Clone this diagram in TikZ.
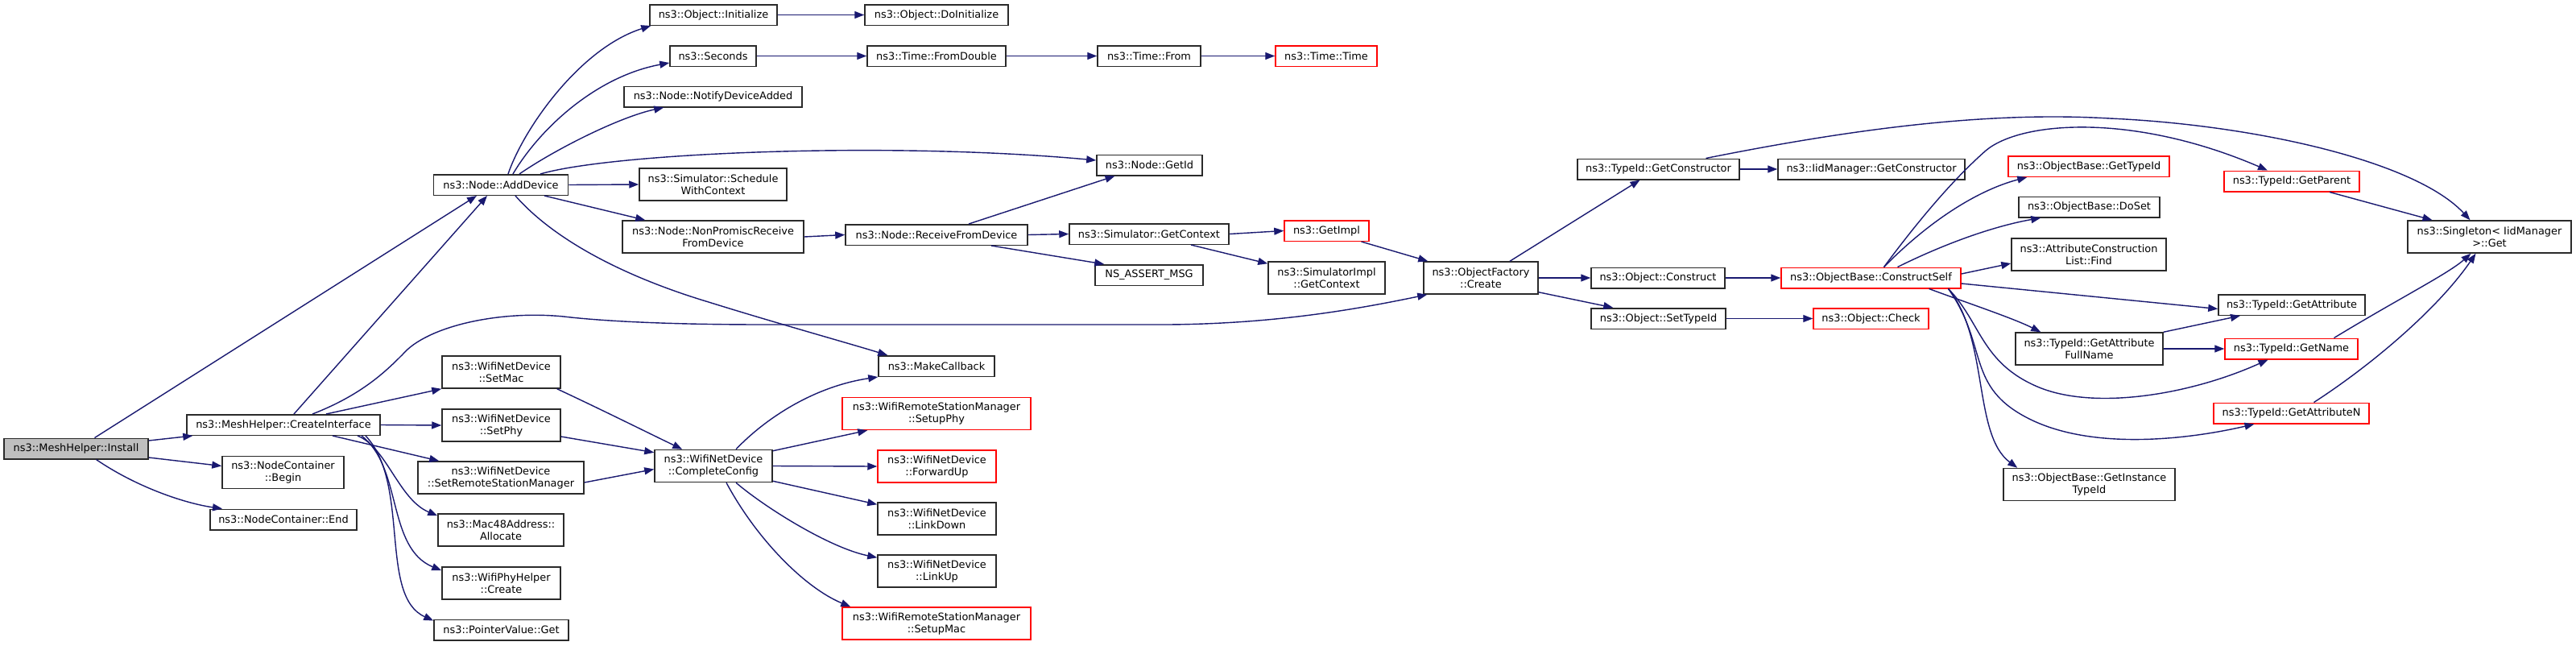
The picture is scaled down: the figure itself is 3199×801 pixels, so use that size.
\documentclass[tikz,border=0pt]{standalone}
\usepackage{fontspec}
\setmainfont{DejaVu Sans}
\usetikzlibrary{arrows.meta}
\definecolor{edgec}{HTML}{191970}
\definecolor{nodeb}{HTML}{2A2A2A}
\begin{document}
\begin{tikzpicture}[x=1pt,y=-1pt,
 box/.style={draw=nodeb, line width=1.5pt, fill=white, inner xsep=3pt, inner ysep=0pt, minimum height=25.5pt, align=center, font=\fontsize{12.9}{15}\selectfont},
 two/.style={minimum height=40pt},
 hot/.style={draw=red},
 cur/.style={fill=black!25},
 e/.style={draw=edgec, line width=1.4pt, -{Triangle[length=12pt,width=9pt]}}]
\useasboundingbox[fill=white] (0,0) rectangle (3199,801);
% nodes
\node[box,cur,minimum width=179pt] (install) at (94.5,557) {ns3::MeshHelper::Install};
\node[box,minimum width=240pt] (ci) at (352,527.5) {ns3::MeshHelper::CreateInterface};
\node[box,two,minimum width=151pt] (ncb) at (351.5,586.5) {ns3::NodeContainer\\::Begin};
\node[box,minimum width=182pt] (nce) at (352,645) {ns3::NodeContainer::End};
\node[box,minimum width=167pt] (ad) at (622,229.5) {ns3::Node::AddDevice};
\node[box,two,minimum width=147pt] (setmac) at (622.5,462) {ns3::WifiNetDevice\\::SetMac};
\node[box,two,minimum width=147pt] (setphy) at (622.5,528) {ns3::WifiNetDevice\\::SetPhy};
\node[box,two,minimum width=206pt] (srsm) at (622,593) {ns3::WifiNetDevice\\::SetRemoteStationManager};
\node[box,two,minimum width=156pt] (mac48) at (622,658) {ns3::Mac48Address::\\Allocate};
\node[box,two,minimum width=147pt] (wph) at (622.5,724) {ns3::WifiPhyHelper\\::Create};
\node[box,minimum width=167pt] (pvg) at (622.5,782) {ns3::PointerValue::Get};
\node[box,minimum width=158pt] (oinit) at (886,18.5) {ns3::Object::Initialize};
\node[box,minimum width=178pt] (odoinit) at (1163,18.5) {ns3::Object::DoInitialize};
\node[box,minimum width=107pt] (sec) at (885.5,69.5) {ns3::Seconds};
\node[box,minimum width=172pt] (fromd) at (1163,69.5) {ns3::Time::FromDouble};
\node[box,minimum width=128pt] (tfrom) at (1427,69.5) {ns3::Time::From};
\node[box,hot,minimum width=126pt] (ttime) at (1647,69.5) {ns3::Time::Time};
\node[box,minimum width=221pt] (nda) at (885.5,120) {ns3::Node::NotifyDeviceAdded};
\node[box,minimum width=131pt] (getid) at (1427.5,205) {ns3::Node::GetId};
\node[box,two,minimum width=183pt] (swc) at (885.5,229) {ns3::Simulator::Schedule\\WithContext};
\node[box,two,minimum width=225pt] (nprfd) at (885.5,294) {ns3::Node::NonPromiscReceive\\FromDevice};
\node[box,minimum width=226pt] (rfd) at (1163,291.5) {ns3::Node::ReceiveFromDevice};
\node[box,minimum width=198pt] (sgc) at (1427,290.5) {ns3::Simulator::GetContext};
\node[box,minimum width=134pt] (nsa) at (1427,341.5) {NS\_ASSERT\_MSG};
\node[box,minimum width=144pt] (mcb) at (1163,454.5) {ns3::MakeCallback};
\node[box,two,hot,minimum width=234pt] (sphy) at (1163,513.5) {ns3::WifiRemoteStationManager\\::SetupPhy};
\node[box,two,minimum width=146pt] (cc) at (886,578.5) {ns3::WifiNetDevice\\::CompleteConfig};
\node[box,two,hot,minimum width=147pt] (fwd) at (1163.5,579) {ns3::WifiNetDevice\\::ForwardUp};
\node[box,two,minimum width=147pt] (ldown) at (1163.5,644) {ns3::WifiNetDevice\\::LinkDown};
\node[box,two,minimum width=147pt] (lup) at (1163.5,709) {ns3::WifiNetDevice\\::LinkUp};
\node[box,two,hot,minimum width=234pt] (smac) at (1163,774) {ns3::WifiRemoteStationManager\\::SetupMac};
\node[box,hot,minimum width=105pt] (gimpl) at (1647.5,286.5) {ns3::GetImpl};
\node[box,two,minimum width=145pt] (sigc) at (1647.5,345) {ns3::SimulatorImpl\\::GetContext};
\node[box,two,minimum width=142pt] (ofc) at (1839,345) {ns3::ObjectFactory\\::Create};
\node[box,minimum width=201pt] (tgc) at (2059.5,210) {ns3::TypeId::GetConstructor};
\node[box,minimum width=232pt] (igc) at (2324,210) {ns3::IidManager::GetConstructor};
\node[box,minimum width=166pt] (ocon) at (2059,345) {ns3::Object::Construct};
\node[box,minimum width=167pt] (ost) at (2059.5,395.5) {ns3::Object::SetTypeId};
\node[box,hot,minimum width=223pt] (ocs) at (2323.5,345) {ns3::ObjectBase::ConstructSelf};
\node[box,hot,minimum width=143pt] (ochk) at (2323.5,395.5) {ns3::Object::Check};
\node[box,hot,minimum width=200pt] (obgt) at (2594,206.5) {ns3::ObjectBase::GetTypeId};
\node[box,minimum width=175pt] (obds) at (2594.5,257) {ns3::ObjectBase::DoSet};
\node[box,two,minimum width=192pt] (acl) at (2594,316) {ns3::AttributeConstruction\\List::Find};
\node[box,hot,minimum width=168pt] (tgp) at (2846,225) {ns3::TypeId::GetParent};
\node[box,two,minimum width=203pt] (sing) at (3091.5,294) {ns3::Singleton< IidManager\\ >::Get};
\node[box,minimum width=182pt] (tga) at (2846,378.5) {ns3::TypeId::GetAttribute};
\node[box,two,minimum width=183pt] (tgafn) at (2594.5,433) {ns3::TypeId::GetAttribute\\FullName};
\node[box,hot,minimum width=165pt] (tgn) at (2845.5,433) {ns3::TypeId::GetName};
\node[box,hot,minimum width=193pt] (tgan) at (2845.5,513) {ns3::TypeId::GetAttributeN};
\node[box,two,minimum width=213pt] (obgit) at (2594.5,601.5) {ns3::ObjectBase::GetInstance\\TypeId};
% edges from Install
\draw[e] ([xshift=23pt]install.north) -- ([xshift=-30pt]ad.south);
\draw[e] ([yshift=10pt]install.east) -- ([xshift=8pt]ci.south west);
\draw[e] ([yshift=-11pt]install.east) -- ([yshift=8pt]ncb.west);
\draw[e] ([xshift=25pt]install.south) .. controls (170,605) and (230,625) .. ([xshift=-76pt]nce.north);
% edges from CreateInterface
\draw[e] ([xshift=13pt]ci.north) -- ([xshift=-17pt]ad.south);
\draw[e] ([xshift=36pt]ci.north) .. controls (450,490) and (480,460) .. (500,440) .. controls (530,405) and (620,385) .. (700,393) .. controls (760,400) and (850,403) .. (950,403) -- (1450,403) .. controls (1580,402) and (1680,385) .. ([xshift=5pt]ofc.south west);
\draw[e] ([xshift=53pt]ci.north) -- (setmac.south west);
\draw[e] (ci.east) -- (setphy.west);
\draw[e] ([xshift=61pt]ci.south) -- ([xshift=27pt]srsm.north west);
\draw[e] ([xshift=92pt]ci.south) .. controls (480,555) and (495,620) .. ([yshift=-3pt]mac48.north west);
\draw[e] ([xshift=97pt]ci.south) .. controls (500,580) and (480,680) .. ([yshift=-5pt]wph.north west);
\draw[e] ([xshift=102pt]ci.south) .. controls (510,600) and (470,740) .. ([yshift=-2pt]pvg.north west);
% edges from AddDevice
\draw[e] ([xshift=9pt]ad.north) .. controls (650,160) and (720,60) .. ([xshift=2pt]oinit.south west);
\draw[e] ([xshift=15pt]ad.north) .. controls (670,160) and (740,95) .. ([yshift=5pt]sec.south west);
\draw[e] ([xshift=23pt]ad.north) .. controls (690,185) and (770,145) .. ([xshift=50pt]nda.south west);
\draw[e] ([xshift=49pt]ad.north) .. controls (760,190) and (1100,175) .. ([yshift=6pt]getid.west);
\draw[e] (ad.east) -- (swc.west);
\draw[e] ([xshift=54pt]ad.south) -- ([xshift=29pt]nprfd.north west);
\draw[e] ([xshift=18pt]ad.south) .. controls (690,300) and (780,345) .. (880,375) .. controls (960,400) and (1050,425) .. ([xshift=12pt]mcb.north west);
% receive chain
\draw[e] (nprfd.east) -- (rfd.west);
\draw[e] ([xshift=40pt]rfd.north) -- ([xshift=-43pt]getid.south);
\draw[e] (rfd.east) -- (sgc.west);
\draw[e] ([xshift=68pt]rfd.south) -- ([xshift=12pt]nsa.north west);
\draw[e] (sgc.east) -- (gimpl.west);
\draw[e] ([xshift=52pt]sgc.south) -- ([yshift=-3pt]sigc.north west);
\draw[e] ([xshift=43pt]gimpl.south) -- ([xshift=6pt]ofc.north west);
% time chain
\draw[e] (oinit.east) -- (odoinit.west);
\draw[e] (sec.east) -- (fromd.west);
\draw[e] (fromd.east) -- (tfrom.west);
\draw[e] (tfrom.east) -- (ttime.west);
% wifi
\draw[e] ([xshift=-5pt]setmac.south east) .. controls (750,510) and (800,535) .. ([xshift=35pt]cc.north west);
\draw[e] ([yshift=-14pt]setphy.east) -- ([yshift=-4pt]cc.north west);
\draw[e] ([yshift=-6pt]srsm.east) -- ([yshift=-4pt]cc.west);
\draw[e] ([xshift=28pt]cc.north) .. controls (950,520) and (1010,480) .. (mcb.south west);
\draw[e] ([yshift=-2pt]cc.north east) -- ([xshift=32pt]sphy.south west);
\draw[e] (cc.east) -- (fwd.west);
\draw[e] ([yshift=2pt]cc.south east) -- ([yshift=-3pt]ldown.north west);
\draw[e] ([xshift=28pt]cc.south) .. controls (950,630) and (1030,680) .. ([yshift=-4pt]lup.north west);
\draw[e] ([xshift=16pt]cc.south) .. controls (940,670) and (1000,730) .. ([xshift=11pt]smac.north west);
% object factory
\draw[e] ([xshift=36pt]ofc.north) -- ([xshift=-23pt]tgc.south);
\draw[e] (ofc.east) -- (ocon.west);
\draw[e] ([yshift=3pt]ofc.south east) -- ([xshift=28pt]ost.north west);
\draw[e] (tgc.east) -- (igc.west);
\draw[e] ([xshift=59pt]tgc.north) .. controls (2350,150) and (2500,140) .. (2620,147) .. controls (2800,155) and (3000,200) .. ([xshift=-24pt]sing.north);
\draw[e] (ocon.east) -- (ocs.west);
\draw[e] (ost.east) -- (ochk.west);
% construct self
\draw[e] ([xshift=16pt]ocs.north) .. controls (2400,270) and (2460,235) .. ([xshift=24pt]obgt.south west);
\draw[e] ([xshift=16pt]ocs.north) .. controls (2400,250) and (2440,210) .. (2466,187) .. controls (2510,150) and (2650,140) .. ([xshift=-30pt]tgp.north);
\draw[e] ([xshift=33pt]ocs.north) .. controls (2420,300) and (2480,280) .. ([xshift=28pt]obds.south west);
\draw[e] ([yshift=5pt]ocs.east) -- ([yshift=-11pt]acl.west);
\draw[e] ([yshift=-7pt]ocs.east) -- ([yshift=-5pt]tga.west);
\draw[e] ([xshift=72pt]ocs.south) .. controls (2440,375) and (2500,395) .. ([xshift=32pt]tgafn.north west);
\draw[e] ([xshift=96pt]ocs.south) .. controls (2460,400) and (2460,450) .. (2530,480) .. controls (2600,510) and (2720,490) .. ([xshift=-29pt]tgn.south);
\draw[e] ([xshift=96pt]ocs.south) .. controls (2470,430) and (2440,480) .. (2520,520) .. controls (2600,560) and (2720,545) .. ([xshift=-46pt]tgan.south);
\draw[e] ([xshift=96pt]ocs.south) .. controls (2470,420) and (2450,540) .. ([xshift=18pt]obgit.north west);
\draw[e] (tgafn.north east) -- ([xshift=-64pt]tga.south);
\draw[e] (tgafn.east) -- (tgn.west);
% to singleton
\draw[e] ([xshift=47pt]tgp.south) -- ([xshift=-71pt]sing.north);
\draw[e] ([xshift=53pt]tgn.north) .. controls (2980,370) and (3040,340) .. ([xshift=-23pt]sing.south);
\draw[e] ([xshift=28pt]tgan.north) .. controls (2950,450) and (3030,380) .. ([xshift=-17pt]sing.south);
\end{tikzpicture}
\end{document}
